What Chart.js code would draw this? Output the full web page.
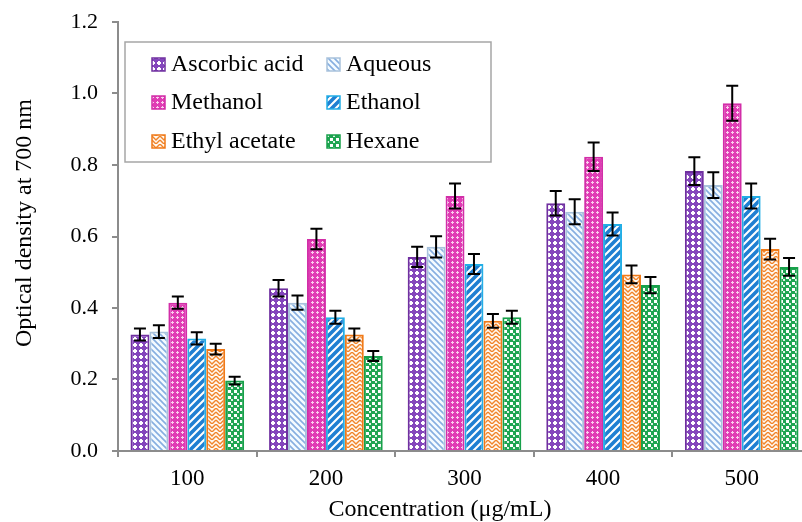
<!DOCTYPE html>
<html>
<head>
<meta charset="utf-8">
<script src="https://cdn.jsdelivr.net/npm/chart.js@4.4.0/dist/chart.umd.min.js"></script>
<style>
  html, body { margin: 0; padding: 0; background: #fff; overflow: hidden; }
  #wrap { position: relative; width: 811px; height: 522px; }
</style>
</head>
<body>
<div id="wrap"><canvas id="odChart"></canvas></div>
<script>
const categories = ["100", "200", "300", "400", "500"];
const seriesNames = ["Ascorbic acid", "Aqueous", "Methanol", "Ethanol", "Ethyl acetate", "Hexane"];

const ascorbic     = [0.326, 0.455, 0.543, 0.693, 0.783];
const aqueous      = [0.334, 0.415, 0.571, 0.669, 0.744];
const methanol     = [0.415, 0.593, 0.713, 0.823, 0.973];
const ethanol      = [0.315, 0.374, 0.523, 0.635, 0.713];
const ethylAcetate = [0.285, 0.326, 0.364, 0.494, 0.565];
const hexane       = [0.197, 0.266, 0.374, 0.464, 0.515];

// standard deviations (error bars)
const ascorbicErr     = [0.017, 0.023, 0.028, 0.034, 0.039];
const aqueousErr      = [0.018, 0.020, 0.030, 0.035, 0.036];
const methanolErr     = [0.017, 0.029, 0.035, 0.040, 0.049];
const ethanolErr      = [0.017, 0.018, 0.028, 0.032, 0.035];
const ethylAcetateErr = [0.015, 0.017, 0.019, 0.025, 0.029];
const hexaneErr       = [0.011, 0.014, 0.018, 0.023, 0.025];

const yTicks = [0, 0.2, 0.4, 0.6, 0.8, 1.0, 1.2];
const xTitle = "Concentration (μg/mL)";
const yTitle = "Optical density at 700 nm";

const serif = "'Liberation Serif', 'Times New Roman', serif";

function makePattern(size, bg, draw) {
  const c = document.createElement("canvas");
  c.width = size;
  c.height = size;
  const g = c.getContext("2d");
  g.fillStyle = bg;
  g.fillRect(0, 0, size, size);
  draw(g, size);
  return g.createPattern(c, "repeat");
}

const patterns = [
  // ascorbic: purple with white crosses
  makePattern(6, "#8446bc", (g) => {
    g.fillStyle = "#ffffff";
    g.fillRect(2, 1, 2, 4);
    g.fillRect(1, 2, 4, 2);
  }),
  // aqueous: white with light blue diagonals
  makePattern(6, "#f4fbff", (g, s) => {
    g.strokeStyle = "#86aee0";
    g.lineWidth = 1.6;
    g.beginPath();
    g.moveTo(-1, -1); g.lineTo(s + 1, s + 1);
    g.moveTo(-1, s - 1); g.lineTo(1, s + 1);
    g.moveTo(s - 1, -1); g.lineTo(s + 1, 1);
    g.stroke();
  }),
  // methanol: magenta with white dots
  makePattern(5, "#e03cb4", (g) => {
    g.fillStyle = "#fbd0ee";
    g.fillRect(1, 2, 3, 1);
    g.fillRect(2, 1, 1, 3);
  }),
  // ethanol: blue wide stripes
  makePattern(8, "#ffffff", (g, s) => {
    g.strokeStyle = "#1f7fd2";
    g.lineWidth = 3.6;
    g.beginPath();
    g.moveTo(-2, s + 2); g.lineTo(s + 2, -2);
    g.moveTo(-2, 2); g.lineTo(2, -2);
    g.moveTo(s - 2, s + 2); g.lineTo(s + 2, s - 2);
    g.stroke();
  }),
  // ethyl acetate: orange zigzag on white
  makePattern(8, "#fff8f0", (g, s) => {
    g.strokeStyle = "#f0842a";
    g.lineWidth = 1.4;
    g.beginPath();
    g.moveTo(0, 0); g.lineTo(s / 2, s / 2); g.lineTo(s, 0);
    g.moveTo(0, s / 2); g.lineTo(s / 2, s); g.lineTo(s, s / 2);
    g.stroke();
  }),
  // hexane: green checks
  makePattern(6, "#1fa552", (g) => {
    g.fillStyle = "#ffffff";
    g.fillRect(0, 0, 3, 3);
    g.fillStyle = "#dff3e6";
    g.fillRect(3, 3, 2, 2);
  })
];

const borders = ["#7030a0", "#a9c2dc", "#d22ea8", "#22aee6", "#f07a18", "#17a04a"];
const seriesData = [ascorbic, aqueous, methanol, ethanol, ethylAcetate, hexane];
const seriesErr = [ascorbicErr, aqueousErr, methanolErr, ethanolErr, ethylAcetateErr, hexaneErr];

const errorBars = {
  id: "errorBars",
  afterDatasetsDraw(chart) {
    const { ctx, scales: { y } } = chart;
    ctx.save();
    ctx.strokeStyle = "#000";
    ctx.lineWidth = 2;
    chart.data.datasets.forEach((ds, di) => {
      const meta = chart.getDatasetMeta(di);
      meta.data.forEach((bar, i) => {
        const v = ds.data[i];
        const e = seriesErr[di][i];
        const top = y.getPixelForValue(v + e);
        const bot = y.getPixelForValue(v - e);
        const x = bar.x;
        ctx.beginPath();
        ctx.moveTo(x, top); ctx.lineTo(x, bot);
        ctx.moveTo(x - 6, top); ctx.lineTo(x + 6, top);
        ctx.moveTo(x - 6, bot); ctx.lineTo(x + 6, bot);
        ctx.stroke();
      });
    });
    ctx.restore();
  }
};

// legend box inside the plot + axis titles
const boxLegend = {
  id: "boxLegend",
  afterDraw(chart) {
    const ctx = chart.ctx;
    ctx.save();
    ctx.fillStyle = "#fff";
    ctx.fillRect(125, 42, 366, 120);
    ctx.strokeStyle = "#a6a6a6";
    ctx.lineWidth = 1.5;
    ctx.strokeRect(125, 42, 366, 120);
    ctx.font = "24px " + serif;
    ctx.textBaseline = "middle";
    const rowsY = [64, 102, 141];
    const colsX = [152, 327];
    chart.data.datasets.forEach((ds, i) => {
      const x = colsX[i % 2];
      const yy = rowsY[Math.floor(i / 2)];
      ctx.fillStyle = ds.backgroundColor;
      ctx.fillRect(x, yy - 6, 13, 13);
      ctx.strokeStyle = ds.borderColor;
      ctx.lineWidth = 1.5;
      ctx.strokeRect(x, yy - 6, 13, 13);
      ctx.fillStyle = "#000";
      ctx.fillText(ds.label, x + 19, yy + 1);
    });

    ctx.fillStyle = "#000";
    ctx.textAlign = "center";
    ctx.fillText(xTitle, 440, 510);
    ctx.translate(25, 223);
    ctx.rotate(-Math.PI / 2);
    ctx.fillText(yTitle, 0, 0);
    ctx.restore();
  }
};

new Chart(document.getElementById("odChart"), {
  type: "bar",
  data: {
    labels: categories,
    datasets: seriesNames.map((name, i) => ({
      label: name,
      data: seriesData[i],
      backgroundColor: patterns[i],
      borderColor: borders[i],
      borderWidth: 2,
      categoryPercentage: 0.82,
      barPercentage: 1.0
    }))
  },
  options: {
    responsive: true,
    maintainAspectRatio: false,
    animation: false,
    layout: { padding: { top: 22, right: 0, left: 0, bottom: 0 } },
    plugins: {
      legend: { display: false },
      tooltip: { enabled: false }
    },
    scales: {
      x: {
        grid: { display: true, drawOnChartArea: false, drawTicks: true, tickLength: 6, color: "#8c8c8c", lineWidth: 2, offset: true },
        border: { display: true, color: "#8c8c8c", width: 2 },
        ticks: { color: "#000", font: { family: serif, size: 23 }, padding: 8 },
        afterFit(scale) {
          scale.height = 71;
          scale.paddingLeft = 0;
          scale.paddingRight = 0;
        }
      },
      y: {
        min: 0,
        max: 1.2,
        afterBuildTicks(scale) { scale.ticks = yTicks.map((v) => ({ value: v })); },
        grid: { display: true, drawOnChartArea: false, drawTicks: true, tickLength: 6, color: "#8c8c8c", lineWidth: 2 },
        border: { display: true, color: "#8c8c8c", width: 2 },
        ticks: { color: "#000", font: { family: serif, size: 22 }, padding: 14, callback: (v) => Number(v).toFixed(1) },
        afterFit(scale) {
          scale.width = 118;
          scale.paddingTop = 0;
          scale.paddingBottom = 0;
        }
      }
    }
  },
  plugins: [errorBars, boxLegend]
});
</script>
</body>
</html>
